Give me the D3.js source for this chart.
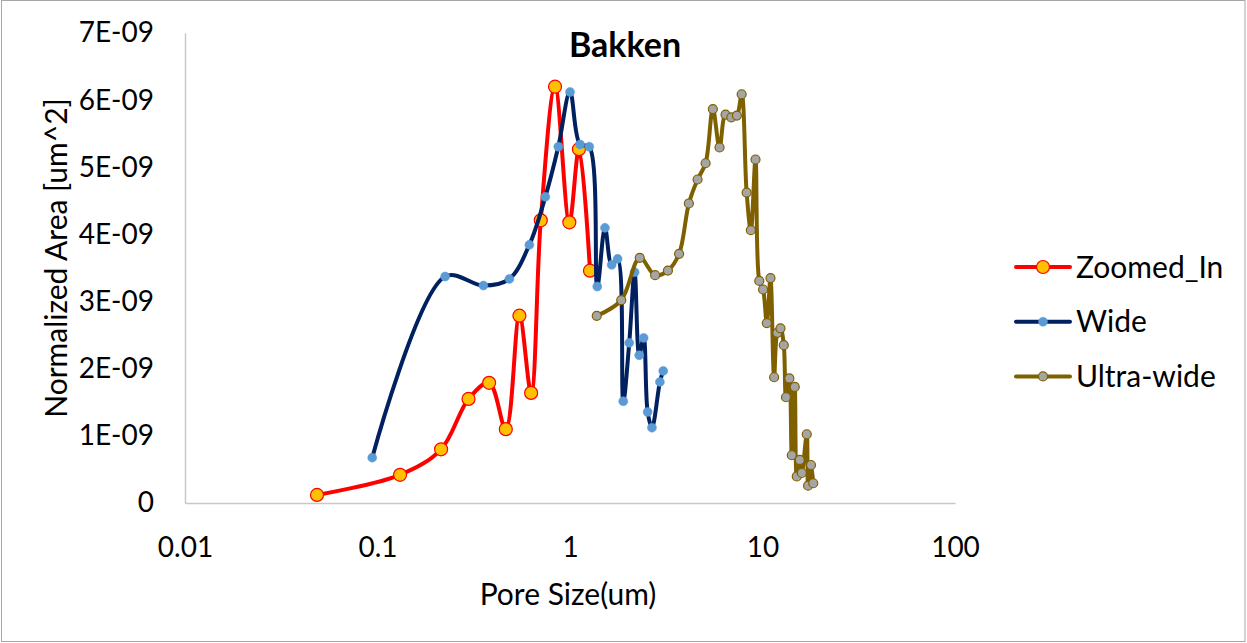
<!DOCTYPE html>
<html>
<head>
<meta charset="utf-8">
<script src="https://cdn.jsdelivr.net/npm/d3@7/dist/d3.min.js"></script>
<style>
  body { margin: 0; background: #fff; }
  text { font-family: Lato, "Open Sans", sans-serif; fill: #000; }
</style>
</head>
<body>
<div id="chart-area"></div>
<script>
// DATA (y values in units of 1E-09 um^2)

const seriesNames = ["Zoomed_In", "Wide", "Ultra-wide"];

const zoomedX = [0.0485, 0.131, 0.214, 0.297, 0.380, 0.464, 0.546, 0.628, 0.705, 0.836, 0.992, 1.113, 1.27];
const zoomedY = [0.12, 0.42, 0.80, 1.55, 1.79, 1.10, 2.79, 1.64, 4.21, 6.20, 4.18, 5.27, 3.46];

const wideX = [0.0939, 0.2246, 0.3549, 0.4842, 0.615, 0.7445, 0.8694, 1.0, 1.127, 1.259, 1.386, 1.519,
  1.646, 1.768, 1.891, 2.031, 2.166, 2.289, 2.413, 2.531, 2.665, 2.931, 3.05];
const wideY = [0.675, 3.373, 3.238, 3.338, 3.845, 4.560, 5.306, 6.121, 5.340, 5.306, 3.224, 4.098,
  3.547, 3.636, 1.516, 2.385, 3.438, 2.201, 2.459, 1.356, 1.122, 1.803, 1.967];

const ultraX = [1.377, 1.846, 2.303, 2.768, 3.226, 3.687, 4.145, 4.599, 5.062, 5.523, 5.981, 6.427,
  6.889, 7.357, 7.792, 8.271, 8.698, 9.197, 9.625, 10.07, 10.53, 11.00, 11.49, 11.94, 12.40, 12.90,
  13.24, 13.79, 14.19, 14.71, 15.07, 15.62, 16.00, 16.98, 17.25, 17.87, 18.35];
const ultraY = [2.787, 3.021, 3.651, 3.393, 3.462, 3.711, 4.461, 4.818, 5.060, 5.867, 5.295, 5.785,
  5.742, 5.770, 6.088, 4.624, 4.064, 5.116, 3.308, 3.180, 2.680, 3.350, 1.873, 2.534, 2.601, 2.350,
  1.575, 1.855, 0.711, 1.729, 0.395, 0.641, 0.447, 1.024, 0.258, 0.566, 0.294];

const xTickValues = [0.01, 0.1, 1, 10, 100];
const xTickLabels = ["0.01", "0.1", "1", "10", "100"];
const yTickValues = [0, 1, 2, 3, 4, 5, 6, 7];
const yTickLabels = ["0", "1E-09", "2E-09", "3E-09", "4E-09", "5E-09", "6E-09", "7E-09"];

// CHART AREA

const W = 1247, H = 643;
const margin = { top: 33, right: 292, bottom: 140, left: 185 };
const width = W - margin.left - margin.right,
  height = H - margin.top - margin.bottom;

const svg = d3.select("#chart-area")
  .append("svg")
  .attr("width", W)
  .attr("height", H);

// outer frame
svg.append("rect")
  .attr("x", 1.5).attr("y", 0.5)
  .attr("width", W - 3.5).attr("height", H - 2)
  .attr("fill", "none")
  .attr("stroke", "#a6a6a6")
  .attr("stroke-width", 1);

const g = svg.append("g")
  .attr("transform", "translate(" + margin.left + "," + margin.top + ")");

const x = d3.scaleLog().domain([0.01, 100]).range([0, width]);
const y = d3.scaleLinear().domain([0, 7e-9]).range([height, 0]);

// AXIS

const xAxis = d3.axisBottom(x)
  .tickValues(xTickValues)
  .tickFormat((d, i) => xTickLabels[i])
  .tickSize(0)
  .tickPadding(34);

const yAxis = d3.axisLeft(y)
  .tickValues(yTickValues.map(v => v * 1e-9))
  .tickFormat((d, i) => yTickLabels[i])
  .tickSize(0)
  .tickPadding(31);

const fontSize = 28,
  labelSize = 30;

const xg = g.append("g")
  .attr("transform", "translate(0," + height + ")")
  .call(xAxis);
const yg = g.append("g").call(yAxis);

[xg, yg].forEach(a => {
  a.select(".domain").attr("stroke", "#c8c8c8").attr("stroke-width", 1.5);
  a.selectAll("text")
    .style("font-family", "Lato, 'Open Sans', sans-serif")
    .style("font-size", fontSize + "px")
    .attr("fill", "#000");
});

// TITLES

svg.append("text")
  .attr("x", 625).attr("y", 57)
  .style("text-anchor", "middle")
  .style("font-size", "34px")
  .style("font-weight", "bold")
  .text("Bakken");

svg.append("text")
  .attr("x", 568).attr("y", 605)
  .style("text-anchor", "middle")
  .style("font-size", labelSize + "px")
  .text("Pore Size(um)");

svg.append("text")
  .attr("transform", "translate(67,258) rotate(-90)")
  .style("text-anchor", "middle")
  .style("font-size", labelSize + "px")
  .text("Normalized Area [um^2]");

// SERIES

const series = [
  { name: seriesNames[0], xs: zoomedX, ys: zoomedY, line: "#ff0000", fill: "#ffc000", stroke: "#ff0000", r: 6.5, sw: 1.2 },
  { name: seriesNames[1], xs: wideX, ys: wideY, line: "#002060", fill: "#5b9bd5", stroke: "#5b9bd5", r: 4.5, sw: 0.5 },
  { name: seriesNames[2], xs: ultraX, ys: ultraY, line: "#7f6000", fill: "#a5a5a5", stroke: "#7f6000", r: 4.5, sw: 1.2 }
];

const line = d3.line()
  .x(d => x(d[0]))
  .y(d => y(d[1] * 1e-9))
  .curve(d3.curveCatmullRom.alpha(0.5));

series.forEach(s => {
  const pts = s.xs.map((v, i) => [v, s.ys[i]]);
  g.append("path")
    .datum(pts)
    .attr("fill", "none")
    .attr("stroke", s.line)
    .attr("stroke-width", 4)
    .attr("stroke-linejoin", "round")
    .attr("d", line);
  g.selectAll(null)
    .data(pts)
    .enter()
    .append("circle")
    .attr("cx", d => x(d[0]))
    .attr("cy", d => y(d[1] * 1e-9))
    .attr("r", s.r)
    .attr("fill", s.fill)
    .attr("stroke", s.stroke)
    .attr("stroke-width", s.sw);
});

// LEGEND

const legend = svg.append("g").attr("transform", "translate(1016,267)");
series.forEach((s, i) => {
  const row = legend.append("g").attr("transform", "translate(0," + (i * 54.7) + ")");
  row.append("line")
    .attr("x1", 0).attr("x2", 54)
    .attr("stroke", s.line).attr("stroke-width", 4)
    .attr("stroke-linecap", "round");
  row.append("circle")
    .attr("cx", 27).attr("r", s.r)
    .attr("fill", s.fill).attr("stroke", s.stroke).attr("stroke-width", s.sw);
  row.append("text")
    .attr("x", 60).attr("dy", "0.35em")
    .style("font-size", labelSize + "px")
    .text(s.name);
});
</script>
</body>
</html>
